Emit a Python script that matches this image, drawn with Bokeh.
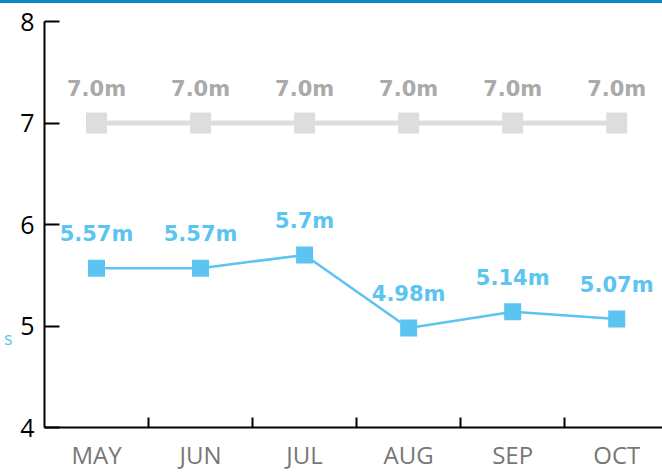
from bokeh.plotting import figure
from bokeh.models import (Range1d, FixedTicker, LinearAxis, LabelSet, ColumnDataSource, Div)
from bokeh.layouts import column
from bokeh.core.properties import value
from bokeh.embed import file_html
from bokeh.resources import INLINE

# ---- data ----
months = ["MAY", "JUN", "JUL", "AUG", "SEP", "OCT"]
target = [7.0, 7.0, 7.0, 7.0, 7.0, 7.0]
actual = [5.57, 5.57, 5.70, 4.98, 5.14, 5.07]
target_labels = ["7.0m", "7.0m", "7.0m", "7.0m", "7.0m", "7.0m"]
actual_labels = ["5.57m", "5.57m", "5.7m", "4.98m", "5.14m", "5.07m"]
y_ticks = [4, 5, 6, 7, 8]
side_text = "s"        # fragment of a legend text at the left edge
side_text_at = 4.88

BLUE = "#5BC4F1"
GREY_MARK = "#DDDDDD"
GREY_TEXT = "#AAAAAA"

n = len(months)
xc = [i + 0.5 for i in range(n)]
bounds = [float(i) for i in range(1, n)]

src_t = ColumnDataSource(dict(x=xc, y=target, lab=target_labels))
src_a = ColumnDataSource(dict(x=xc, y=actual, lab=actual_labels))

p = figure(width=662, height=470, output_backend="svg", toolbar_location=None,
           x_range=Range1d(0, 5.94), y_range=Range1d(y_ticks[0], y_ticks[-1]),
           x_axis_type=None, y_axis_type=None,
           min_border_left=43, min_border_top=18, min_border_bottom=45, min_border_right=0)
p.outline_line_color = None
p.grid.visible = False
p.background_fill_color = "white"
p.border_fill_color = "white"

# y axis
ya = LinearAxis(ticker=FixedTicker(ticks=y_ticks))
ya.axis_line_color = "black"
ya.axis_line_width = 2
ya.major_tick_line_color = "black"
ya.major_tick_line_width = 2
ya.major_tick_in = 15
ya.major_tick_out = 0
ya.minor_tick_line_color = None
ya.major_label_standoff = 10
ya.major_label_text_font = "Open Sans"
ya.major_label_text_font_size = "25px"
ya.major_label_text_color = "black"
p.add_layout(ya, "left")

# outer left "axis" only carrying the small blue text fragment
sa = LinearAxis(ticker=FixedTicker(ticks=[side_text_at]))
sa.axis_line_color = None
sa.major_tick_line_color = None
sa.minor_tick_line_color = None
sa.major_tick_in = 0
sa.major_tick_out = 0
sa.major_label_overrides = {side_text_at: side_text}
sa.major_label_text_font = "Open Sans"
sa.major_label_text_font_size = "18px"
sa.major_label_text_color = BLUE
sa.major_label_standoff = 5
p.add_layout(sa, "left")

# x axis: month labels at category centres, tick marks at category boundaries
xa = LinearAxis(ticker=FixedTicker(ticks=xc, minor_ticks=bounds))
xa.axis_line_color = "black"
xa.axis_line_width = 2
xa.major_tick_line_color = None
xa.major_tick_in = 0
xa.major_tick_out = 0
xa.minor_tick_line_color = "black"
xa.minor_tick_line_width = 2
xa.minor_tick_in = 10
xa.minor_tick_out = 0
xa.major_label_overrides = {x: m for x, m in zip(xc, months)}
xa.major_label_text_font = "Open Sans"
xa.major_label_text_font_size = "24px"
xa.major_label_text_color = "#777777"
xa.major_label_standoff = 10
p.add_layout(xa, "below")

# target series
p.line("x", "y", source=src_t, line_color=GREY_MARK, line_width=5)
p.scatter("x", "y", source=src_t, marker="square", size=21, fill_color=GREY_MARK,
          line_color=None)

# actual series
p.line("x", "y", source=src_a, line_color=BLUE, line_width=2.5)
p.scatter("x", "y", source=src_a, marker="square", size=17, fill_color=BLUE,
          line_color=None)

# value labels
p.add_layout(LabelSet(x="x", y="y", text="lab", source=src_t, y_offset=34,
                      text_align="center", text_baseline="middle",
                      text_font=value("DejaVu Sans"), text_font_style="bold",
                      text_font_size="21px", text_color=GREY_TEXT))
p.add_layout(LabelSet(x="x", y="y", text="lab", source=src_a, y_offset=34,
                      text_align="center", text_baseline="middle",
                      text_font=value("DejaVu Sans"), text_font_size="21px",
                      text_font_style="bold", text_color=BLUE))

# thin blue band across the top of the page
band = Div(text="", width=662, height=3, margin=0,
           styles={"background-color": "#0A87C8"})

layout = column(band, p, spacing=0)
open("out.html", "w").write(file_html(layout, INLINE))
